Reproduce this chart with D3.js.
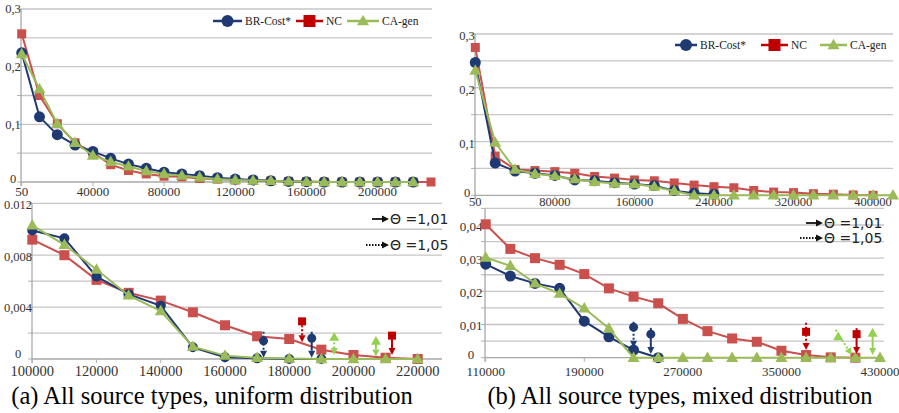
<!DOCTYPE html>
<html>
<head>
<meta charset="utf-8">
<title>All source types</title>
<style>
  body { margin: 0; background: #fff; }
  svg text { font-family: "Liberation Serif"; fill: #333; }
</style>
</head>
<body>
<script src="https://cdn.jsdelivr.net/npm/d3@7/dist/d3.min.js"></script>
<script>
// ---- (a) top: uniform distribution, category axis
var catA = ["50","10000","20000","30000","40000","50000","60000","70000","80000","90000","100000","110000",
            "120000","130000","140000","150000","160000","170000","180000","190000","200000","210000","220000","230000"];
var brCostA = [0.224,0.113,0.082,0.064,0.053,0.041,0.031,0.024,0.017,0.014,0.011,0.0075,0.005,0.0035,0.002,0.001,0.0005,0,0,0,0,0,0];
var ncA     = [0.257,0.150,0.101,0.068,0.051,0.030,0.020,0.014,0.010,0.009,0.006,0.005,0.0035,0.003,0.002,0.001,0.0005,0,0,0,0,0,0,0];
var caGenA  = [0.222,0.161,0.101,0.068,0.046,0.035,0.027,0.019,0.014,0.011,0.008,0.005,0.0035,0.0025,0.002,0.001,0.0005,0,0,0,0,0,0];
var xLabelsA = ["50","40000","80000","120000","160000","200000"];
var yTicksA = [0, 0.1, 0.2, 0.3];
var yLabelsA = ["0","0,1","0,2","0,3"];

// ---- (b) top: mixed distribution, category axis
var catB = ["50","20000","40000","60000","80000","100000","120000","140000","160000","180000","200000",
            "220000","240000","260000","280000","300000","320000","340000","360000","380000","400000","420000"];
var brCostB = [0.247,0.060,0.045,0.041,0.037,0.0285,0.027,0.0235,0.021,0.018,0.0087,0.004,0.002];
var ncB     = [0.275,0.073,0.048,0.046,0.044,0.041,0.035,0.032,0.0285,0.027,0.023,0.019,0.016,0.014,0.009,0.006,0.005,0.003,0.002,0.0006,0];
var caGenB  = [0.232,0.098,0.048,0.040,0.036,0.030,0.025,0.022,0.021,0.016,0.008,0,0,0,0,0,0,0,0,0,0,0];
var xLabelsB = ["50","80000","160000","240000","320000","400000"];
var yTicksB = [0, 0.1, 0.2, 0.3];
var yLabelsB = ["0","0,1","0,2","0,3"];

// ---- (a) bottom: zoom on the tail
var xZoomA = [100000,110000,120000,130000,140000,150000,160000,170000,180000,190000,200000,210000,220000];
var brCostZA = [0.0099,0.0093,0.00635,0.0050,0.0041,0.0009,0.00013,0.00005,0,0];
var ncZA     = [0.0092,0.0080,0.0061,0.0051,0.0045,0.0036,0.0026,0.00175,0.00154,0.00072,0.00031,0.0001,0];
var caGenZA  = [0.0103,0.0088,0.0069,0.0049,0.0037,0.00095,0.00026,0.0001,0.00003,0,0,0,0];
var xTicksZA = [100000,120000,140000,160000,180000,200000,220000];
var yTicksZA = [0, 0.004, 0.008, 0.012];
var yLabelsZA = ["0","0,004","0,008","0.012"];

// ---- (b) bottom: zoom on the tail
var xZoomB = [110000,130000,150000,170000,190000,210000,230000,250000,270000,290000,310000,330000,350000,370000,390000,410000,430000];
var brCostZB = [0.0282,0.0246,0.0224,0.0209,0.011,0.0063,0.0023,0];
var ncZB     = [0.0402,0.0328,0.030,0.028,0.0252,0.0209,0.0184,0.0164,0.0117,0.008,0.0058,0.0048,0.0021,0.0008,0.0001,0];
var caGenZB  = [0.0302,0.0277,0.0224,0.0193,0.0149,0.0088,0,0,0,0,0,0,0,0,0,0,0];
var xTicksZB = [110000,190000,270000,350000,430000];
var yTicksZB = [0, 0.01, 0.02, 0.03, 0.04];
var yLabelsZB = ["0","0,01","0,02","0,03","0,04"];

// theta arrows: series, x, line top, marker value, arrow end, theta (xEnd for slanted one)
var thetaA = [
  {s: "br", x: 172000, top: 0.0021, mark: 0.0014, end: 0.0001, theta: 1.05},
  {s: "nc", x: 184000, top: 0.0029, mark: 0.0029, end: 0.0013, theta: 1.05},
  {s: "br", x: 187000, top: 0.0021, mark: 0.0016, end: 0.0001, theta: 1.01},
  {s: "ca", x: 194000, top: 0.0019, mark: 0.0019, end: 0.0003, theta: 1.05},
  {s: "ca", x: 207000, top: 0.0016, mark: 0.0016, end: 0.0002, theta: 1.01},
  {s: "nc", x: 212000, top: 0.0019, mark: 0.0018, end: 0.0003, theta: 1.01}
];
var thetaB = [
  {s: "br", x: 230000, top: 0.0108, mark: 0.0092, end: 0.0030, theta: 1.05},
  {s: "br", x: 244000, top: 0.0090, mark: 0.0071, end: 0.0011, theta: 1.01},
  {s: "nc", x: 370000, top: 0.0105, mark: 0.0078, end: 0.0023, theta: 1.05},
  {s: "ca", x: 394000, top: 0.0084, mark: 0.0072, end: 0.0008, theta: 1.05, xEnd: 407000},
  {s: "nc", x: 411000, top: 0.0089, mark: 0.0071, end: 0.0011, theta: 1.01},
  {s: "ca", x: 424000, top: 0.0083, mark: 0.0083, end: 0.0008, theta: 1.01}
];

var seriesNames = {br: "BR-Cost*", nc: "NC", ca: "CA-gen"};
var lineColor = {br: "#1f3a73", nc: "#c9504d", ca: "#9bbb59"};
var arrowColor = {br: "#1f3a73", nc: "#c00000", ca: "#92d050"};
var shape = {br: "circle", nc: "square", ca: "triangle"};
var serif = "Liberation Serif";

var svg = d3.select("body").append("svg")
    .attr("width", 899)
    .attr("height", 413);

// draw a marker centred on (x, y)
function drawMarker(g, kind, x, y, size, color) {
  if (kind == "circle") {
    g.append("circle").attr("cx", x).attr("cy", y).attr("r", size / 2).attr("fill", color);
  } else if (kind == "square") {
    g.append("rect").attr("x", x - size / 2).attr("y", y - size / 2)
      .attr("width", size).attr("height", size).attr("fill", color);
  } else {
    var h = size * 0.87;
    g.append("path")
      .attr("d", "M" + x + "," + (y - h * 0.6) + "L" + (x + size / 2) + "," + (y + h * 0.4) +
                 "L" + (x - size / 2) + "," + (y + h * 0.4) + "Z")
      .attr("fill", color);
  }
}

function drawPanel(p) {
  var g = svg.append("g");
  var yr = p.y.range();

  // gridlines
  g.selectAll(".grid")
    .data(p.y.ticks(p.gridCount))
    .enter().append("line")
    .attr("x1", p.left).attr("x2", p.right)
    .attr("y1", function (d) { return p.y(d); })
    .attr("y2", function (d) { return p.y(d); })
    .attr("stroke", function (d) { return d == 0 ? "#a8a8a8" : "#c6c6c6"; })
    .attr("stroke-width", 1.3);

  // little ticks left of the axis
  g.selectAll(".ytick")
    .data(p.y.ticks(p.gridCount))
    .enter().append("line")
    .attr("x1", p.left - 4).attr("x2", p.left)
    .attr("y1", function (d) { return p.y(d); })
    .attr("y2", function (d) { return p.y(d); })
    .attr("stroke", "#b0b0b0");

  // y axis line
  g.append("line")
    .attr("x1", p.left).attr("x2", p.left)
    .attr("y1", yr[1]).attr("y2", yr[0] + 4)
    .attr("stroke", "#a8a8a8").attr("stroke-width", 1.3);

  // y labels
  g.selectAll(".ylab")
    .data(p.yTicks)
    .enter().append("text")
    .attr("x", p.yLabelX)
    .attr("y", function (d) { return p.y(d) + (d == 0 ? p.zeroShift : p.yLabelShift); })
    .attr("dy", "0.35em")
    .attr("text-anchor", "middle")
    .style("font-family", serif)
    .style("font-size", p.yFont + "px")
    .text(function (d, i) { return p.yLabels[i]; });

  // x labels
  g.selectAll(".xlab")
    .data(p.xLabels)
    .enter().append("text")
    .attr("x", function (d) { return p.xPos(d); })
    .attr("y", p.xLabelY)
    .attr("text-anchor", "middle")
    .style("font-family", serif)
    .style("font-size", p.xFont + "px")
    .text(function (d) { return d; });

  g.selectAll(".xtick")
    .data(p.xLabels)
    .enter().append("line")
    .attr("x1", function (d) { return p.xPos(d); })
    .attr("x2", function (d) { return p.xPos(d); })
    .attr("y1", yr[0]).attr("y2", yr[0] + 4)
    .attr("stroke", "#b0b0b0");

  // series: red first, then blue, then green
  ["nc", "br", "ca"].forEach(function (k) {
    var vals = p.series[k];
    var pts = vals.map(function (v, i) { return [p.xPos(p.xs[i]), p.y(v)]; });
    g.append("path")
      .attr("d", d3.line()(pts))
      .attr("fill", "none")
      .attr("stroke", lineColor[k])
      .attr("stroke-width", 2);
    pts.forEach(function (pt) {
      drawMarker(g, shape[k], pt[0], pt[1], p.markerSize[k], lineColor[k]);
    });
  });
  return g;
}

function drawArrows(g, list, x, y) {
  list.forEach(function (a) {
    var c = arrowColor[a.s];
    var x1 = x(a.x), y1 = y(a.top);
    var x2 = x(a.xEnd || a.x), y2 = y(a.end);
    var ang = Math.atan2(y2 - y1, x2 - x1);
    var hl = 7, hw = 3.5;
    var bx = x2 - hl * Math.cos(ang), by = y2 - hl * Math.sin(ang);
    g.append("line")
      .attr("x1", x1).attr("y1", y1).attr("x2", bx).attr("y2", by)
      .attr("stroke", c).attr("stroke-width", 2)
      .attr("stroke-dasharray", a.theta == 1.05 ? "2,2" : null);
    g.append("path")
      .attr("d", "M" + x2 + "," + y2 +
                 "L" + (bx + hw * Math.sin(ang)) + "," + (by - hw * Math.cos(ang)) +
                 "L" + (bx - hw * Math.sin(ang)) + "," + (by + hw * Math.cos(ang)) + "Z")
      .attr("fill", c);
    var t = (a.top - a.mark) / (a.top - a.end);
    var mx = x1 + (x2 - x1) * t, my = y(a.mark);
    var size = shape[a.s] == "circle" ? 9 : (shape[a.s] == "square" ? 8 : 10);
    drawMarker(g, shape[a.s], mx, my + (shape[a.s] == "triangle" ? 3 : 0), size, c);
  });
}

function thetaLegend(x, yTop, gap) {
  var g = svg.append("g");
  [1.01, 1.05].forEach(function (th, i) {
    var yy = yTop + i * gap;
    var x0 = th == 1.05 ? x - 6 : x;
    g.append("line")
      .attr("x1", x0).attr("x2", x + 11).attr("y1", yy).attr("y2", yy)
      .attr("stroke", "#111").attr("stroke-width", 1.8)
      .attr("stroke-dasharray", th == 1.05 ? "1.5,1.5" : null);
    g.append("path")
      .attr("d", "M" + (x + 17) + "," + yy + "L" + (x + 10) + "," + (yy - 3.5) + "L" + (x + 10) + "," + (yy + 3.5) + "Z")
      .attr("fill", "#111");
    g.append("text")
      .attr("x", x + 18).attr("y", yy + 5)
      .style("font-family", "DejaVu Sans")
      .style("font-size", "14px")
      .style("fill", "#222")
      .text("\u0398 =" + String(th.toFixed(2)).replace(".", ","));
  });
}

function seriesLegend(items) {
  var g = svg.append("g");
  items.forEach(function (it) {
    var c = it.k == "nc" ? "#c00000" : lineColor[it.k];
    g.append("line")
      .attr("x1", it.x).attr("x2", it.x + it.w).attr("y1", it.y).attr("y2", it.y)
      .attr("stroke", c).attr("stroke-width", 2.5);
    drawMarker(g, shape[it.k], it.x + it.w / 2, it.y, 12, c);
    g.append("text")
      .attr("x", it.x + it.w + 3).attr("y", it.y + 4)
      .style("font-family", serif)
      .style("font-size", "11.5px")
      .style("fill", "#222")
      .text(seriesNames[it.k]);
  });
}

// ---------- (a) top
var xA = d3.scalePoint().domain(catA).range([21.7, 431]);
var yA = d3.scaleLinear().domain([0, 0.3]).range([182, 9]);
drawPanel({
  x: xA, y: yA, left: 21, right: 432, gridCount: 6,
  xs: catA, xPos: function (d) { return xA(d); },
  xLabels: xLabelsA, xLabelY: 196, xFont: 13,
  yTicks: yTicksA, yLabels: yLabelsA, yFont: 12.5, yLabelX: 13, yLabelShift: 0, zeroShift: -3,
  series: {br: brCostA, nc: ncA, ca: caGenA},
  markerSize: {br: 11, nc: 9, ca: 12}
});
seriesLegend([
  {k: "br", x: 213, y: 21, w: 29},
  {k: "nc", x: 296, y: 21, w: 27},
  {k: "ca", x: 347, y: 21, w: 32}
]);

// ---------- (b) top
var xB = d3.scalePoint().domain(catB).range([475.3, 893]);
var yB = d3.scaleLinear().domain([0, 0.3]).range([195.3, 34]);
drawPanel({
  x: xB, y: yB, left: 475, right: 893, gridCount: 6,
  xs: catB, xPos: function (d) { return xB(d); },
  xLabels: xLabelsB, xLabelY: 206, xFont: 12.5,
  yTicks: yTicksB, yLabels: yLabelsB, yFont: 12.5, yLabelX: 467, yLabelShift: 2, zeroShift: -3,
  series: {br: brCostB, nc: ncB, ca: caGenB},
  markerSize: {br: 11, nc: 9, ca: 12}
});
seriesLegend([
  {k: "br", x: 675, y: 45, w: 22},
  {k: "nc", x: 761, y: 45, w: 27},
  {k: "ca", x: 820, y: 45, w: 27}
]);

// ---------- (a) bottom
var xZA = d3.scaleLinear().domain([100000, 220000]).range([32.3, 417.7]);
var yZA = d3.scaleLinear().domain([0, 0.012]).range([359, 203.3]);
var gZA = drawPanel({
  x: xZA, y: yZA, left: 32, right: 442, gridCount: 6,
  xs: xZoomA, xPos: function (d) { return xZA(d); },
  xLabels: xTicksZA, xLabelY: 376, xFont: 14.5,
  yTicks: yTicksZA, yLabels: yLabelsZA, yFont: 12.5, yLabelX: 18, yLabelShift: 1, zeroShift: -5,
  series: {br: brCostZA, nc: ncZA, ca: caGenZA},
  markerSize: {br: 10, nc: 10, ca: 12}
});
drawArrows(gZA, thetaA, xZA, yZA);
thetaLegend(372, 219, 26);

// ---------- (b) bottom
var xZB = d3.scaleLinear().domain([110000, 430000]).range([485.7, 880]);
var yZB = d3.scaleLinear().domain([0, 0.045]).range([357.7, 208.4]);
var gZB = drawPanel({
  x: xZB, y: yZB, left: 485, right: 884, gridCount: 9,
  xs: xZoomB, xPos: function (d) { return xZB(d); },
  xLabels: xTicksZB, xLabelY: 376, xFont: 13,
  yTicks: yTicksZB, yLabels: yLabelsZB, yFont: 13, yLabelX: 471, yLabelShift: 1, zeroShift: -3,
  series: {br: brCostZB, nc: ncZB, ca: caGenZB},
  markerSize: {br: 11, nc: 10, ca: 12}
});
drawArrows(gZB, thetaB, xZB, yZB);
thetaLegend(806, 223, 15);

// ---------- captions
svg.append("text").attr("x", 212).attr("y", 404).attr("text-anchor", "middle")
  .style("font-family", serif)
  .style("font-size", "24.5px").style("fill", "#000")
  .text("(a) All source types, uniform distribution");
svg.append("text").attr("x", 680).attr("y", 404).attr("text-anchor", "middle")
  .style("font-family", serif)
  .style("font-size", "24.5px").style("fill", "#000")
  .text("(b) All source types, mixed distribution");
</script>
</body>
</html>
